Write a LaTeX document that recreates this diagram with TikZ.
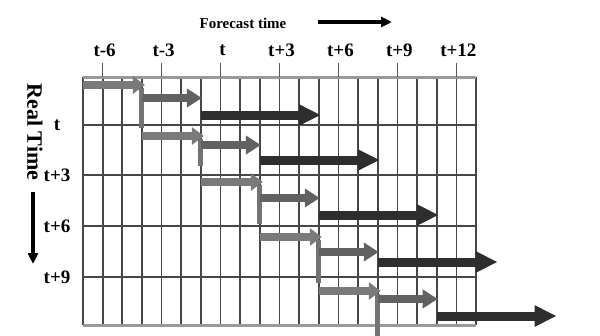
\documentclass[tikz,border=0pt]{standalone}
\usepackage{fontspec}
\setmainfont{Liberation Serif}
\usetikzlibrary{arrows.meta}
\begin{document}
\begin{tikzpicture}[x=1pt,y=-1pt,
  gridline/.style={draw=black!72,line width=1.7pt},
  edgeline/.style={draw=black!40,line width=3pt},
  ticklabel/.style={font=\fontsize{19}{21}\selectfont\bfseries,inner sep=0pt},
  lightarrow/.style={draw=black!52,line width=8.5pt,-{Triangle[length=12pt,width=17pt]}},
  midarrow/.style={draw=black!62,line width=8.5pt,-{Triangle[length=15pt,width=18pt]}},
  darkarrow/.style={draw=black!82,line width=9pt,-{Triangle[length=22pt,width=20pt]}},
  stepbar/.style={draw=black!55,line width=5pt},
  axisarrow/.style={draw=black,line width=3.5pt,-{Triangle[length=11pt,width=10pt]}}]
\useasboundingbox (0,0) rectangle (600,335);
\fill[white] (0,0) rectangle (600,335);
% column positions of the grid
\def\cw{19.65}
\def\xo{83}
% horizontal rule positions
\foreach \y in {125,175,226,277} \draw[gridline] (\xo,\y) -- (476,\y);
\foreach \i in {1,...,19} \draw[gridline] ({\xo+\i*\cw},77) -- ({\xo+\i*\cw},325);
\draw[gridline] (\xo,77) -- (\xo,325);
\draw[gridline] (476,77) -- (476,325);
\draw[edgeline] (\xo,77) -- (476,77);
\draw[edgeline] (\xo,325) -- (476,325);
% tick marks and forecast-time labels
\foreach \i/\lab/\nm in {1/t-6/fa,4/t-3/fb,7/t/fc,10/t+3/fd,13/t+6/fe,16/t+9/ff,19/t+12/fg}{
  \draw[black!65,line width=1.4pt] ({\xo+\i*\cw},63) -- ({\xo+\i*\cw},77);
  \node[ticklabel] (\nm) at ({\xo+\i*\cw+2},50) {\lab};
}
% real-time labels
\foreach \y/\lab/\nm in {125/t/ra,175/t+3/rb,226/t+6/rc,277/t+9/rd}
  \node[ticklabel] (\nm) at (57,\y) {\lab};
% axis titles
\node[font=\fontsize{15}{17}\selectfont\bfseries,inner sep=0pt] (ftitle) at (243,23) {Forecast time};
\coordinate (fa0) at (318,22);
\coordinate (fa1) at (392,22);
\draw[axisarrow] (fa0) -- (fa1);
\node[font=\fontsize{22}{24}\selectfont\bfseries,rotate=-90,inner sep=0pt] (rtitle) at (35,132) {Real Time};
\coordinate (ra0) at (33,192);
\coordinate (ra1) at (33,264);
\draw[axisarrow] (ra0) -- (ra1);
% forecast runs: light, step bar, medium, dark
\foreach \c/\yl/\ym/\yd/\yb in {0/85/98/115/128, 3/136/145/160/166, 6/182/198/215/224, 9/237/252/262/283, 12/291/299/316/336}{
  \draw[lightarrow] ({\xo+\c*\cw},\yl) -- ({\xo+(\c+3)*\cw+3},\yl);
  \draw[stepbar] ({\xo+(\c+3)*\cw},{\yl+3}) -- ({\xo+(\c+3)*\cw},\yb);
  \draw[midarrow] ({\xo+(\c+3)*\cw},\ym) -- ({\xo+(\c+6)*\cw+1},\ym);
  \draw[darkarrow] ({\xo+(\c+6)*\cw},\yd) -- ({\xo+(\c+12)*\cw+2},\yd);
}
\end{tikzpicture}
\end{document}
